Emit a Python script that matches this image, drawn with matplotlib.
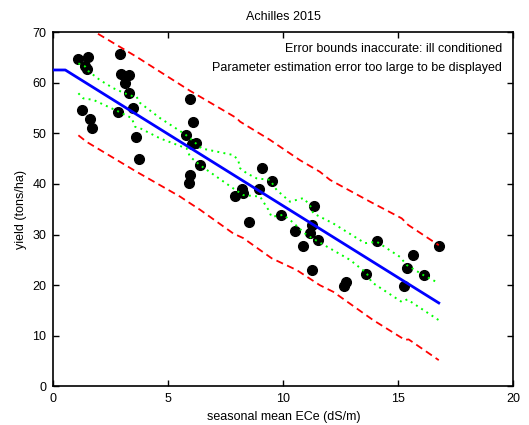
import matplotlib
matplotlib.use("Agg")
import matplotlib.pyplot as plt

plt.rcParams['font.family'] = ['Liberation Sans', 'DejaVu Sans']

# observed data (seasonal mean ECe, yield)
ece = [1.09, 1.49, 1.38, 1.45, 1.25, 1.60, 1.68, 2.90, 2.94, 3.29, 3.12, 3.29, 3.48,
       2.83, 3.60, 3.71, 5.94, 6.09, 5.77, 6.05, 6.20, 6.38, 5.94, 5.91, 9.06, 9.49,
       8.19, 8.26, 7.90, 8.93, 9.90, 8.51, 11.32, 11.23, 10.51, 11.16, 11.52, 10.87,
       11.26, 12.73, 12.64, 13.60, 14.09, 15.65, 15.36, 16.10, 15.24, 16.76]
yld = [64.6, 65.1, 63.3, 62.6, 54.6, 52.9, 51.1, 65.7, 61.7, 61.5, 60.0, 57.9, 54.9,
       54.2, 49.3, 45.0, 56.8, 52.2, 49.7, 47.9, 48.1, 43.8, 41.8, 40.2, 43.1, 40.5,
       39.0, 38.3, 37.7, 39.0, 33.8, 32.4, 35.7, 31.8, 30.8, 30.3, 29.0, 27.7,
       23.0, 20.6, 19.9, 22.2, 28.8, 26.0, 23.4, 22.0, 19.8, 27.7]

# fitted threshold-slope model
fit_x = [0.0, 0.52, 16.76]
fit_y = [62.5, 62.5, 16.5]

# confidence bounds (green)
conf_hi_x = [1.09, 1.38, 1.52, 2.03, 2.61, 3.26, 3.41, 3.62, 3.77, 4.64, 5.73, 6.20, 6.45,
             7.83, 8.04, 8.12, 8.41, 8.84, 9.42, 9.71, 10.29, 10.87, 11.16, 11.30, 12.17,
             13.55, 14.06, 15.07, 15.36, 16.09, 16.76]
conf_hi_y = [63.8, 63.2, 62.3, 60.5, 58.9, 57.6, 57.4, 57.2, 56.0, 53.0, 49.8, 48.0, 47.0,
             45.7, 44.7, 43.1, 42.1, 41.1, 40.8, 38.8, 36.5, 37.2, 35.8, 34.2, 32.2,
             28.3, 28.6, 25.6, 24.0, 22.0, 20.4]
conf_lo_x = [1.09, 1.30, 1.74, 2.83, 3.41, 3.55, 3.77, 4.64, 5.80, 5.94, 6.38, 7.83, 8.26,
             8.99, 9.35, 9.49, 10.0, 10.29, 11.02, 11.52, 12.90, 13.62, 13.84, 15.15,
             15.39, 16.76]
conf_lo_y = [57.9, 56.9, 56.6, 54.3, 53.0, 51.3, 51.0, 49.0, 47.0, 45.4, 43.7, 39.1, 37.8,
             37.5, 34.9, 33.5, 33.9, 32.9, 29.9, 28.6, 25.0, 22.4, 20.6, 16.7,
             17.2, 13.1]

# prediction bounds (red)
pred_hi_x = [1.09, 1.81, 3.62, 5.94, 7.97, 8.12, 9.42, 10.72, 11.59, 12.03, 13.77, 15.15,
             15.43, 16.76]
pred_hi_y = [72.2, 70.0, 65.1, 58.4, 53.0, 52.3, 48.7, 44.7, 42.4, 40.8, 36.5, 33.2,
             31.9, 27.9]
pred_lo_x = [1.09, 1.45, 3.62, 5.51, 5.94, 6.38, 7.83, 8.26, 9.50, 10.58, 11.59, 12.17,
             13.91, 15.29, 15.45, 16.76]
pred_lo_y = [49.6, 48.3, 42.4, 37.5, 36.2, 34.9, 30.2, 29.3, 25.3, 23.0, 20.0, 18.7,
             13.1, 9.2, 9.3, 5.2]

xticks = [0, 5, 10, 15, 20]
yticks = [0, 10, 20, 30, 40, 50, 60, 70]

fig = plt.figure(figsize=(5.29, 4.25), dpi=100)
ax = fig.add_axes([0.1008, 0.0906, 0.8695, 0.8341])

ax.plot(ece, yld, 'o', color='black', markersize=7, zorder=2)
ax.plot(fit_x, fit_y, '-', color='#0000ff', lw=2.0, zorder=3)
ax.plot(conf_hi_x, conf_hi_y, color='#00ff00', lw=1.4, ls=(0, (1, 2.2)), zorder=4)
ax.plot(conf_lo_x, conf_lo_y, color='#00ff00', lw=1.4, ls=(0, (1, 2.2)), zorder=4)
ax.plot(pred_hi_x, pred_hi_y, color='#ff0000', lw=1.3, ls=(0, (4, 2.5)), zorder=4)
ax.plot(pred_lo_x, pred_lo_y, color='#ff0000', lw=1.3, ls=(0, (4, 2.5)), zorder=4)

ax.set_xlim(0, 20)
ax.set_ylim(0, 70)
ax.set_xticks(xticks)
ax.set_yticks(yticks)
ax.tick_params(direction='in', length=4, width=1, labelsize=9, top=True, right=True,
               colors='black', pad=5)
for s in ax.spines.values():
    s.set_linewidth(1.2)

ax.set_title('Achilles 2015', fontsize=9, pad=9)
ax.set_xlabel('seasonal mean ECe (dS/m)', fontsize=9, labelpad=4)
ax.set_ylabel('yield (tons/ha)', fontsize=9, labelpad=4)

ax.text(0.975, 0.970, 'Error bounds inaccurate: ill conditioned', transform=ax.transAxes,
        ha='right', va='top', fontsize=9)
ax.text(0.975, 0.915, 'Parameter estimation error too large to be displayed',
        transform=ax.transAxes, ha='right', va='top', fontsize=9)

fig.savefig('out.png', dpi=100)
